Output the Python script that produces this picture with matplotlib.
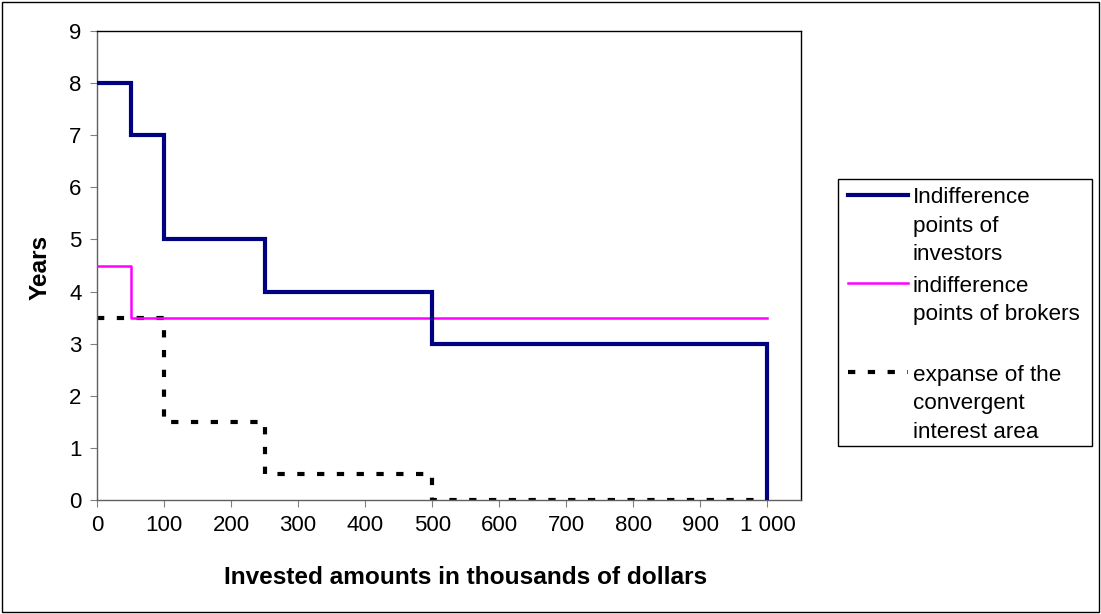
import matplotlib

matplotlib.use('Agg')
import matplotlib.pyplot as plt
from matplotlib.lines import Line2D
from matplotlib.patches import Rectangle

plt.rcParams['font.family'] = ['Liberation Sans', 'DejaVu Sans']

# step data (x = invested amount in thousands, y = years)
inv_x = [0, 50, 50, 100, 100, 250, 250, 500, 500, 1000, 1000]
inv_y = [8, 8, 7, 7, 5, 5, 4, 4, 3, 3, 0]
brk_x = [0, 50, 50, 1000]
brk_y = [4.5, 4.5, 3.5, 3.5]
conv_x = [0, 100, 100, 250, 250, 500, 500, 1000]
conv_y = [3.5, 3.5, 1.5, 1.5, 0.5, 0.5, 0, 0]

x_ticks = list(range(0, 1001, 100))
x_labels = ['0', '100', '200', '300', '400', '500', '600', '700', '800', '900', '1 000']
y_ticks = list(range(0, 10))

legend_labels = [['Indifference', 'points of', 'investors'],
                 ['indifference', 'points of brokers'],
                 ['expanse of the', 'convergent', 'interest area']]

W, H = 1101, 614
fig = plt.figure(figsize=(W / 100, H / 100), dpi=100)
ax = fig.add_axes([97 / W, 1 - 500 / H, 704 / W, 469 / H])

ax.plot(conv_x, conv_y, color='black', lw=3, dashes=(1.75, 3), dash_capstyle='butt', zorder=2)
ax.plot(brk_x, brk_y, color='#FF00FF', lw=1.8, zorder=3)
ax.plot(inv_x, inv_y, color='#000080', lw=3, zorder=4, solid_joinstyle='miter')

ax.set_xlim(0, 1050)
ax.set_ylim(0, 9)
ax.set_xticks(x_ticks)
ax.set_xticklabels(x_labels)
ax.set_yticks(y_ticks)
ax.tick_params(labelsize=16, length=5, color='#808080', direction='out', pad=6)
for s in ax.spines.values():
    s.set_color('black')
    s.set_linewidth(1)
ax.spines['left'].set_color('#606060')
ax.spines['bottom'].set_color('#606060')

fig.text(466 / W, 1 - 577 / H, 'Invested amounts in thousands of dollars',
         ha='center', va='center', fontsize=17.6, fontweight='bold')
fig.text(40 / W, 1 - 267 / H, 'Years', ha='center', va='center',
         rotation=90, fontsize=17.6, fontweight='bold')

# outer border
fig.add_artist(Rectangle((2 / W, 2 / H), 1 - 4 / W, 1 - 4 / H,
                         transform=fig.transFigure, fill=False, ec='black', lw=1))

# legend drawn by hand so the handles sit on the first line of each label
fig.add_artist(Rectangle((838 / W, 1 - 446 / H), 254 / W, 267 / H,
                         transform=fig.transFigure, fill=False, ec='black', lw=1))
handles = [dict(color='#000080', lw=3), dict(color='#FF00FF', lw=1.8),
           dict(color='black', lw=3, dashes=(1.75, 3), dash_capstyle='butt')]
tops = [195, 283, 372]
for lines, h, ty in zip(legend_labels, handles, tops):
    fig.add_artist(Line2D([848 / W, 908 / W], [1 - ty / H, 1 - ty / H],
                          transform=fig.transFigure, **h))
    for i, line in enumerate(lines):
        fig.text(913 / W, 1 - (ty + 3 + 28.5 * i) / H, line, ha='left', va='center',
                 fontsize=16.2)

fig.savefig('out.png', dpi=100)
